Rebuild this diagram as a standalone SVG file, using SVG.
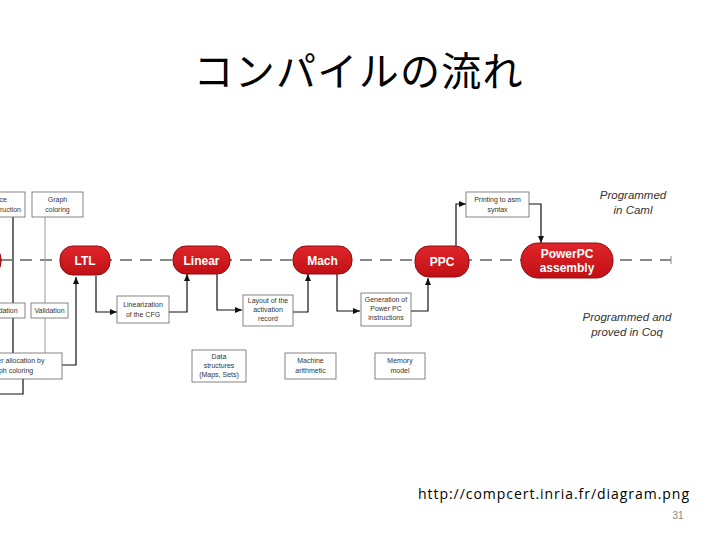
<svg xmlns="http://www.w3.org/2000/svg" width="720" height="540" viewBox="0 0 720 540">
<defs>
<marker id="ah" markerWidth="8" markerHeight="8" refX="7" refY="4" orient="auto" markerUnits="userSpaceOnUse"><path d="M0,1 L7,4 L0,7 Z" fill="#111"/></marker>
<linearGradient id="rg" x1="0" y1="0" x2="0" y2="1"><stop offset="0" stop-color="#e0262a"/><stop offset="1" stop-color="#c01015"/></linearGradient>
</defs>
<style>
.pill{fill:url(#rg);stroke:#8c0c0e;stroke-width:1}
.pt{font-family:"Liberation Sans",Arial,sans-serif;font-weight:bold;font-size:12px;fill:#fff;text-anchor:middle}
.box{fill:#fff;stroke:#666;stroke-width:0.8}
.bt{font-family:"Liberation Sans",Arial,sans-serif;font-size:7px;fill:#333;text-anchor:middle}
.ln{fill:none;stroke:#111;stroke-width:1.2}
.gl{fill:none;stroke:#999;stroke-width:1}
.it{font-family:"Liberation Sans",Arial,sans-serif;font-style:italic;font-size:11.5px;fill:#333;text-anchor:middle}
</style>
<rect width="720" height="540" fill="#fff"/>
<text x="358" y="86" font-family="'Noto Sans CJK JP',sans-serif" font-size="40" text-anchor="middle" textLength="329" fill="#000">コンパイルの流れ</text>

<g id="connectors">
<path d="M0,260 H671" fill="none" stroke="#888" stroke-width="2" stroke-dasharray="12,8"/>
<path d="M671,256 V264" stroke="#888" stroke-width="1"/>
<path class="ln" d="M13,217 V303 M13,318 V353"/>
<path class="gl" d="M45,217 V303 M45,318 V353"/>
<path class="ln" d="M62,365 H76 V277" marker-end="url(#ah)"/>
<path class="ln" d="M23,379 V394 H0"/>
<path class="ln" d="M96,276 V312 H117" marker-end="url(#ah)"/>
<path class="ln" d="M169,312 H187 V274" marker-end="url(#ah)"/>
<path class="ln" d="M217,273 V310 H242" marker-end="url(#ah)"/>
<path class="ln" d="M293,312 H308 V274" marker-end="url(#ah)"/>
<path class="ln" d="M337,273 V311 H360" marker-end="url(#ah)"/>
<path class="ln" d="M411,311 H428 V278" marker-end="url(#ah)"/>
<path class="ln" d="M456,246 V204 H466" marker-end="url(#ah)"/>
<path class="ln" d="M529,204 H541 V243" marker-end="url(#ah)"/>
</g>

<g id="n-left"><rect class="pill" x="-50" y="246" width="51" height="29" rx="13"/></g>
<g id="n-ltl"><rect class="pill" x="60" y="246" width="50" height="29" rx="13"/><text class="pt" x="85" y="265">LTL</text></g>
<g id="n-linear"><rect class="pill" x="173" y="246" width="57" height="28" rx="13"/><text class="pt" x="201.5" y="265">Linear</text></g>
<g id="n-mach"><rect class="pill" x="293" y="246" width="59" height="28" rx="13"/><text class="pt" x="322.5" y="265">Mach</text></g>
<g id="n-ppc"><rect class="pill" x="415" y="246" width="54" height="31" rx="14"/><text class="pt" x="442" y="266">PPC</text></g>
<g id="n-asm"><rect class="pill" x="521" y="243" width="92" height="35" rx="17"/><text class="pt" x="567" y="258">PowerPC</text><text class="pt" x="567" y="272">assembly</text></g>

<g id="b-interf"><rect class="box" x="-40" y="192" width="65" height="25"/><text class="bt" x="7" y="202" text-anchor="end" style="text-anchor:end">Interference</text><text class="bt" x="21" y="212" style="text-anchor:end">construction</text></g>
<g id="b-graph"><rect class="box" x="32" y="192" width="51" height="25"/><text class="bt" x="57.5" y="202">Graph</text><text class="bt" x="57.5" y="212">coloring</text></g>
<g id="b-val1"><rect class="box" x="-20" y="303" width="45" height="15"/><text class="bt" x="2.5" y="313">Validation</text></g>
<g id="b-val2"><rect class="box" x="31" y="303" width="37" height="15"/><text class="bt" x="49.5" y="313">Validation</text></g>
<g id="b-regalloc"><rect class="box" x="-40" y="353" width="102" height="26"/><text class="bt" x="11" y="363">Register allocation by</text><text class="bt" x="11" y="373">graph coloring</text></g>
<g id="b-linz"><rect class="box" x="117" y="296" width="52" height="27"/><text class="bt" x="143" y="307">Linearization</text><text class="bt" x="143" y="317">of the CFG</text></g>
<g id="b-layout"><rect class="box" x="243" y="295" width="50" height="31"/><text class="bt" x="268" y="303">Layout of the</text><text class="bt" x="268" y="312">activation</text><text class="bt" x="268" y="321">record</text></g>
<g id="b-gen"><rect class="box" x="361" y="293" width="50" height="33"/><text class="bt" x="386" y="302">Generation of</text><text class="bt" x="386" y="311">Power PC</text><text class="bt" x="386" y="320">instructions</text></g>
<g id="b-print"><rect class="box" x="466" y="192" width="63" height="25"/><text class="bt" x="497.5" y="202">Printing to asm</text><text class="bt" x="497.5" y="212">syntax</text></g>
<g id="b-data"><rect class="box" x="192" y="350" width="54" height="32"/><text class="bt" x="219" y="359">Data</text><text class="bt" x="219" y="368">structures</text><text class="bt" x="219" y="377">(Maps, Sets)</text></g>
<g id="b-march"><rect class="box" x="285" y="353" width="51" height="26"/><text class="bt" x="310.5" y="363">Machine</text><text class="bt" x="310.5" y="373">arithmetic</text></g>
<g id="b-mem"><rect class="box" x="375" y="353" width="50" height="26"/><text class="bt" x="400" y="363">Memory</text><text class="bt" x="400" y="373">model</text></g>

<g id="labels">
<text class="it" x="633" y="199">Programmed</text>
<text class="it" x="633" y="214">in Caml</text>
<text class="it" x="627" y="321">Programmed and</text>
<text class="it" x="627" y="336">proved in Coq</text>
</g>
<text x="418" y="499" font-family="'Open Sans','DejaVu Sans',sans-serif" font-size="14" textLength="271" fill="#000">http://compcert.inria.fr/diagram.png</text>
<text x="678" y="519" font-family="'Liberation Sans',Arial,sans-serif" font-size="10" fill="#888" text-anchor="middle">31</text>
</svg>
